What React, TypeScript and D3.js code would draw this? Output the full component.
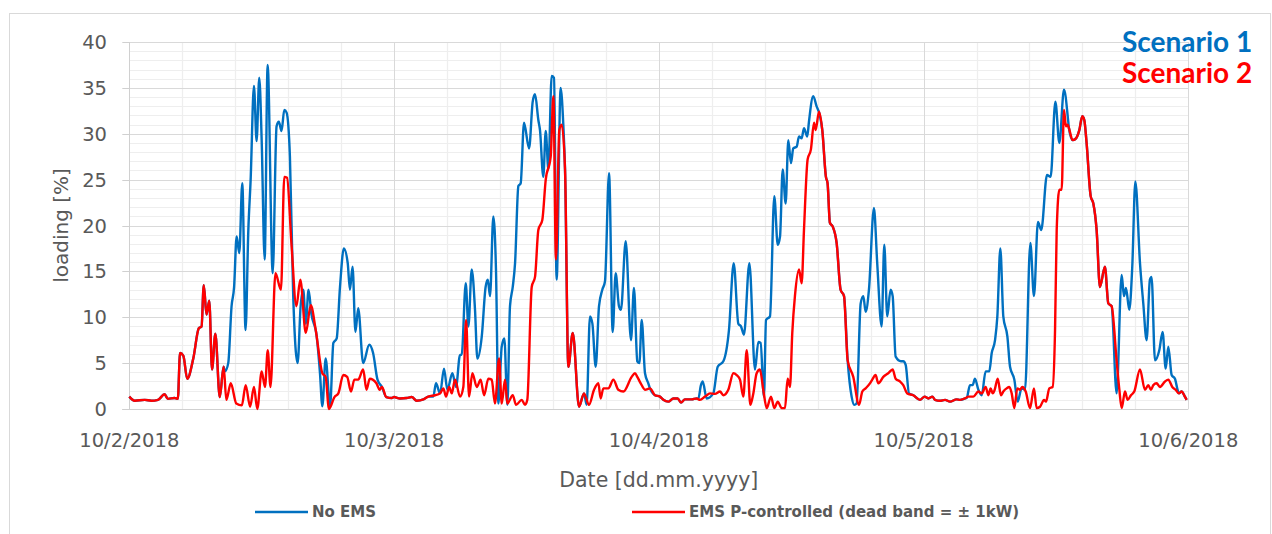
import * as d3 from "d3";
import { useEffect, useRef } from "react";

// [hours since 10/2/2018 00:00, loading %]
type Pt = [number, number];

const startDate = new Date(2018, 9, 2);
const dayTicks = ["10/2/2018", "10/3/2018", "10/4/2018", "10/5/2018", "10/6/2018"];
const yTicks = [0, 5, 10, 15, 20, 25, 30, 35, 40];

// EMS P-controlled (red), day by day
const redDay1: Pt[] = [
  [0, 1.35], [0.5, 0.9], [1.4, 1.0], [2.0, 0.9], [2.6, 1.0], [3.2, 1.6], [3.5, 1.1], [4.1, 1.2], [4.4, 1.1],
  [4.6, 6.1], [4.9, 5.8], [5.25, 3.3], [5.8, 5.5], [6.3, 8.8], [6.55, 9.0], [6.75, 13.5], [7.0, 10.3],
  [7.25, 11.8], [7.5, 4.3], [7.8, 8.2], [8.2, 1.3], [8.55, 4.6], [8.8, 1.0], [9.2, 2.8], [9.7, 0.6],
  [10.2, 0.4], [10.55, 2.6], [10.95, 0.25], [11.3, 2.4], [11.6, 0], [12.0, 4.1], [12.3, 2.4], [12.55, 6.4],
  [12.8, 2.4], [13.25, 14.8], [13.75, 13.0], [14.05, 25.3], [14.3, 25.2], [14.7, 18], [15.15, 11.2],
  [15.5, 14.1], [16.0, 8.3], [16.45, 11.3], [16.9, 8.6], [17.5, 3.9], [17.8, 3.5], [18.1, 0], [18.6, 1.3],
  [18.95, 1.7], [19.4, 3.7], [19.75, 3.5], [20.1, 1.9], [20.4, 3.2], [20.75, 3.2], [21.2, 4.3], [21.5, 2.1],
  [21.8, 3.3], [22.4, 2.8], [22.7, 2.1], [22.9, 2.4], [23.3, 1.3], [23.8, 1.2],
];
const redDay2: Pt[] = [
  [24.0, 1.3], [24.54, 1.15], [25.15, 1.2], [25.6, 1.3], [26.05, 0.9], [26.66, 1.05], [27.1, 1.35],
  [27.72, 1.5], [28.17, 1.7], [28.47, 2.25], [28.71, 1.35], [29.0, 2.4], [29.23, 1.7], [29.53, 3.2],
  [29.98, 1.35], [30.28, 2.4], [30.53, 9.7], [30.8, 1.35], [31.1, 3.9], [31.5, 2.4], [31.85, 3.2],
  [32.16, 1.5], [32.55, 3.3], [32.85, 3.2], [33.15, 0.6], [33.52, 5.5], [33.76, 0.6], [34.06, 3.2],
  [34.27, 0.6], [34.76, 1.5], [35.06, 0.45], [35.57, 1.0], [35.87, 0.45], [36.08, 1.0], [36.48, 13.3],
  [36.78, 14.4], [37.08, 19.5], [37.44, 20.6], [37.75, 25.0], [38.2, 27.5], [38.44, 34.1], [38.68, 16.3],
  [38.98, 30.4], [39.2, 31.0], [39.5, 26.1], [39.8, 4.6], [40.2, 8.3], [40.77, 0.25], [41.22, 1.7],
  [41.67, 0.45], [42.13, 2.1], [42.52, 2.8], [42.73, 1.15], [42.97, 2.25], [43.43, 2.25], [43.88, 3.2],
  [44.33, 2.1], [44.79, 1.9], [45.54, 3.5], [45.84, 3.9], [46.05, 3.5], [46.36, 2.8], [46.75, 2.1],
  [47.2, 2.25], [47.65, 1.5],
];
const redDay3: Pt[] = [
  [48.1, 1.35], [48.41, 1.0], [48.86, 0.8], [49.32, 1.15], [49.71, 1.15], [50.01, 0.7], [50.37, 1.05],
  [50.98, 1.05], [51.43, 1.15], [51.73, 1.0], [52.19, 1.35], [52.64, 1.7], [53.09, 1.65], [53.55, 1.9],
  [53.85, 1.5], [54.3, 2.1], [54.76, 3.9], [55.06, 3.7], [55.36, 3.2], [55.66, 1.35], [55.97, 6.4],
  [56.3, 0.45], [56.57, 1.7], [56.87, 3.9], [57.17, 4.3], [57.47, 2.1], [57.78, 0.1], [58.17, 1.35],
  [58.47, 0.1], [58.78, 0.8], [59.14, 0.1], [59.44, 0.1], [59.68, 3.3], [59.89, 2.4], [60.1, 8.3],
  [60.34, 12.3], [60.71, 15.2], [60.95, 13.7], [61.16, 19.5], [61.49, 27.2], [61.79, 28.3], [62.07, 31.2],
  [62.22, 30.4], [62.52, 32.4], [62.82, 30.4], [63.15, 25.3], [63.3, 24.6], [63.51, 20.3], [63.76, 19.9],
  [64.12, 18.1], [64.48, 13.0], [64.79, 12.3], [65.12, 5.3], [65.63, 3.5], [66.15, 0.45], [66.45, 1.9],
  [66.75, 2.25], [67.14, 2.8], [67.35, 3.2], [67.65, 3.7], [67.9, 2.8], [68.35, 3.5], [68.8, 3.9],
  [69.2, 4.3], [69.47, 3.3], [69.86, 3.0], [70.16, 2.6], [70.52, 1.7], [71.07, 1.5], [71.67, 1.0],
];
const redDay4: Pt[] = [
  [72.1, 1.35], [72.44, 1.15], [72.8, 1.35], [73.04, 1.0], [73.49, 0.9], [73.95, 1.0], [74.4, 0.8],
  [75.0, 1.05], [75.31, 1.0], [75.76, 1.15], [76.06, 1.35], [76.51, 1.35], [76.97, 1.9], [77.27, 1.7],
  [77.63, 2.4], [77.87, 1.5], [78.08, 2.25], [78.27, 1.7], [78.45, 2.1], [78.72, 3.3], [79.02, 1.5],
  [79.23, 1.9], [79.53, 2.25], [79.78, 2.4], [79.99, 1.7], [80.23, 0.1], [80.5, 2.25], [80.74, 2.1],
  [80.95, 2.4], [81.26, 1.9], [81.65, 0.1], [82.01, 2.25], [82.25, 0.1], [82.56, 0.25], [82.92, 1.0],
  [83.1, 0.8], [83.4, 2.25], [83.7, 2.4], [83.92, 8.6], [84.07, 19.5], [84.31, 23.9], [84.52, 23.9],
  [84.73, 32.6], [84.91, 30.8], [85.06, 31.0], [85.18, 30.6], [85.52, 29.3], [85.82, 29.5], [86.12, 30.4],
  [86.39, 31.9], [86.57, 31.5], [86.78, 29.0], [87.15, 23.2], [87.39, 22.4], [87.69, 19.5], [87.99, 13.3],
  [88.44, 15.5], [88.75, 11.5], [89.05, 11.2], [89.5, 5.3], [89.75, 2.1], [89.96, 0.1], [90.26, 1.9],
  [90.5, 1.0], [90.8, 1.5], [91.1, 1.9], [91.62, 4.3], [92.07, 2.1], [92.37, 2.6], [92.61, 2.1],
  [92.83, 2.6], [93.13, 2.8], [93.43, 2.4], [93.89, 3.0], [94.19, 3.2], [94.55, 2.4], [94.85, 2.1],
  [95.15, 1.7], [95.39, 1.9], [95.69, 1.35], [95.85, 1.0],
];

// No EMS (blue): only the stretches where it leaves the red line
const blueDay1: Pt[] = [
  [8.67, 4.1], [8.97, 5.0], [9.27, 11.2], [9.5, 13.3], [9.73, 18.8], [9.97, 17.0], [10.24, 24.6],
  [10.54, 8.6], [10.79, 19.5], [11.0, 25.0], [11.3, 35.2], [11.54, 29.2], [11.78, 36.1], [12.0, 29.3],
  [12.27, 16.3], [12.54, 37.5], [13.0, 14.8], [13.35, 30.8], [13.56, 31.3], [13.8, 30.3], [14.05, 32.6],
  [14.26, 32.3], [14.56, 27.5], [14.86, 12.3], [15.26, 5.0], [15.53, 11.2], [15.77, 13.0], [16.0, 9.3],
  [16.25, 13.0], [16.5, 10.4], [16.98, 8.0], [17.28, 4.0], [17.5, 0.3], [17.8, 5.5], [18.2, 0.3],
  [18.5, 7.2], [18.8, 7.7], [19.1, 13.3], [19.45, 17.5], [19.8, 15.9], [20.0, 13.0], [20.24, 15.5],
  [20.5, 8.4], [20.75, 11.0], [21.2, 5.0], [21.75, 7.0], [22.1, 6.1], [22.5, 3.2], [22.9, 2.4],
];
const blueDay2a: Pt[] = [
  [27.56, 1.35], [27.8, 2.8], [28.17, 1.7], [28.53, 4.4], [28.83, 2.1], [29.29, 3.9], [29.62, 2.4],
  [29.98, 5.9], [30.13, 5.9], [30.5, 13.7], [30.74, 9.0], [31.04, 15.2], [31.34, 10.8], [31.55, 5.5],
  [31.95, 7.9], [32.3, 13.3], [32.5, 14.1], [32.7, 12.3], [33.0, 21.0], [33.24, 15.2], [33.46, 0.6],
  [33.76, 6.8], [34.0, 7.7], [34.27, 0.45], [34.51, 11.2], [34.76, 13.3], [34.97, 15.9], [35.27, 24.3],
  [35.48, 24.6], [35.78, 31.2], [36.24, 28.4], [36.57, 33.5], [36.78, 34.3], [37.08, 31.5], [37.23, 30.4],
  [37.53, 25.3], [37.75, 30.3], [37.99, 26.1], [38.29, 36.3], [38.5, 36.1], [38.74, 14.1], [39.1, 35.0],
  [39.35, 30.8], [39.5, 26.1],
];
const blueDay2b: Pt[] = [
  [41.46, 0.45], [41.76, 10.1], [41.98, 9.3], [42.28, 4.6], [42.58, 11.2], [42.88, 13.0], [43.12, 13.9],
  [43.49, 25.7], [43.82, 8.4], [44.09, 14.8], [44.39, 11.2], [44.57, 10.8], [45.0, 18.3], [45.48, 7.5],
  [45.75, 13.2], [46.05, 5.2], [46.24, 5.0], [46.45, 9.7], [46.75, 3.9], [47.05, 2.8], [47.2, 2.25],
];
const blueDay3a: Pt[] = [
  [51.58, 1.1], [51.82, 2.6], [51.98, 3.0], [52.34, 1.15], [52.94, 1.7], [53.34, 4.6], [53.85, 5.2],
  [54.36, 8.6], [54.79, 15.9], [55.21, 9.3], [55.45, 9.0], [55.72, 8.1], [56.21, 15.9], [56.72, 4.3],
  [57.02, 7.3], [57.23, 7.2], [57.53, 1.35], [57.72, 9.7], [58.08, 10.1], [58.47, 23.2], [58.78, 17.9],
  [58.99, 18.8], [59.23, 26.1], [59.5, 22.4], [59.74, 29.3], [59.98, 26.8], [60.19, 28.4], [60.5, 28.6],
  [60.71, 29.7], [60.95, 29.5], [61.16, 30.6], [61.46, 29.7], [61.61, 31.3], [62.0, 34.1], [62.3, 33.0],
  [62.6, 32.0],
];
const blueDay3b: Pt[] = [
  [65.48, 1.35], [65.72, 0.45], [65.93, 0.6], [66.3, 11.5], [66.54, 12.3], [66.75, 10.6], [67.05, 13.0],
  [67.5, 21.9], [67.8, 15.9], [68.2, 9.0], [68.44, 17.9], [68.71, 10.1], [69.01, 13.0], [69.2, 12.3],
  [69.47, 5.7], [69.95, 5.2], [70.16, 5.2], [70.38, 4.8], [70.68, 1.7],
];
const blueDay4a: Pt[] = [
  [75.91, 1.2], [76.21, 2.6], [76.45, 2.6], [76.66, 3.3], [76.97, 2.1], [77.27, 1.5], [77.63, 4.1],
  [77.96, 4.1], [78.18, 6.1], [78.48, 7.5], [78.69, 10.1], [78.96, 17.5], [79.23, 10.1], [79.6, 7.9],
  [79.84, 4.6], [80.23, 3.2], [80.53, 0.8], [80.89, 2.25], [81.2, 2.1], [81.68, 18.1], [82.01, 12.3],
  [82.37, 20.4], [82.67, 19.5], [83.19, 25.5], [83.52, 25.3], [83.95, 33.5], [84.31, 29.0], [84.73, 34.8],
  [85.12, 31.3],
];
const blueDay4b: Pt[] = [
  [89.5, 1.7], [89.96, 14.6], [90.17, 12.3], [90.35, 13.2], [90.65, 10.8], [90.92, 15.5], [91.2, 24.8],
  [91.62, 15.9], [91.92, 11.5], [92.22, 7.5], [92.52, 14.1], [92.67, 14.4], [92.98, 5.3], [93.37, 6.4],
  [93.67, 8.4], [93.95, 4.4], [94.19, 6.8], [94.49, 3.7], [94.79, 3.3], [95.03, 2.1],
];

const redSeries: Pt[] = [...redDay1, ...redDay2, ...redDay3, ...redDay4];
const blueParts = [blueDay1, blueDay2a, blueDay2b, blueDay3a, blueDay3b, blueDay4a, blueDay4b];

// where the blue line isn't separately read it lies under the red one
const buildBlue = (): Pt[] => {
  const outside = redSeries.filter(([t]) => !blueParts.some(p => t >= p[0][0] && t <= p[p.length - 1][0]));
  return [...outside, ...blueParts.flat()].sort((a, b) => a[0] - b[0]);
};
const blueSeries = buildBlue();

const BLUE = "#0070C0";
const RED = "#FF0000";
const TEXT = "#595959";
const FONT = "'DejaVu Sans', sans-serif";

const App = () => {
  const chartRef = useRef(null);

  useEffect(() => {
    const width = 1272;
    const height = 534;
    const margin = { top: 42, bottom: 125, left: 129.3, right: 83.7 };

    const svg = d3.select(chartRef.current);
    svg.selectAll("*").remove();

    const toDate = (h: number) => new Date(startDate.getTime() + h * 3600 * 1000);

    const scaleX = d3.scaleTime()
      .domain([startDate, toDate(96)])
      .range([margin.left, width - margin.right]);
    const scaleY = d3.scaleLinear()
      .domain([0, 40])
      .range([height - margin.bottom, margin.top]);

    const x0 = margin.left, x1 = width - margin.right;
    const y0 = height - margin.bottom, y1 = margin.top;
    const crisp = (v: number) => Math.round(v) + 0.5;

    // outer chart frame
    svg.append("rect")
      .attr("x", 9.5).attr("y", 13.5)
      .attr("width", 1261).attr("height", 540)
      .attr("fill", "white").attr("stroke", "#d9d9d9");

    // minor grid
    const minorY = d3.range(1, 40).filter(v => v % 5 !== 0);
    svg.append("g").selectAll("line")
      .data(minorY).enter().append("line")
      .attr("x1", x0).attr("x2", x1)
      .attr("y1", d => crisp(scaleY(d))).attr("y2", d => crisp(scaleY(d)))
      .attr("stroke", "#eeeeee").attr("stroke-width", 1);

    const minorX = d3.range(1, 20).filter(i => i % 5 !== 0).map(i => i * 4.8);
    svg.append("g").selectAll("line")
      .data(minorX).enter().append("line")
      .attr("x1", d => crisp(scaleX(toDate(d)))).attr("x2", d => crisp(scaleX(toDate(d))))
      .attr("y1", y1).attr("y2", y0)
      .attr("stroke", "#eeeeee").attr("stroke-width", 1.3);

    // major grid
    svg.append("g").selectAll("line")
      .data(yTicks.slice(1)).enter().append("line")
      .attr("x1", x0).attr("x2", x1)
      .attr("y1", d => crisp(scaleY(d))).attr("y2", d => crisp(scaleY(d)))
      .attr("stroke", "#d9d9d9");

    svg.append("g").selectAll("line")
      .data(dayTicks.slice(1)).enter().append("line")
      .attr("x1", (d, i) => crisp(scaleX(toDate((i + 1) * 24))))
      .attr("x2", (d, i) => crisp(scaleX(toDate((i + 1) * 24))))
      .attr("y1", y1).attr("y2", y0)
      .attr("stroke", "#d9d9d9");

    // axes
    svg.append("line")
      .attr("x1", crisp(x0)).attr("x2", crisp(x0)).attr("y1", y1).attr("y2", y0)
      .attr("stroke", "#d0d0d0");
    svg.append("line")
      .attr("x1", x0 - 7).attr("x2", x1).attr("y1", crisp(y0)).attr("y2", crisp(y0))
      .attr("stroke", "#d0d0d0");
    svg.append("g").selectAll("line")
      .data(yTicks).enter().append("line")
      .attr("x1", x0 - 7).attr("x2", x0)
      .attr("y1", d => crisp(scaleY(d))).attr("y2", d => crisp(scaleY(d)))
      .attr("stroke", "#d0d0d0");

    svg.append("g").selectAll("text")
      .data(yTicks).enter().append("text")
      .attr("x", 107).attr("y", d => scaleY(d))
      .attr("dy", "0.36em")
      .attr("text-anchor", "end")
      .attr("font-family", FONT).attr("font-size", 19.5)
      .attr("fill", TEXT)
      .text(d => d);

    svg.append("g").selectAll("text")
      .data(dayTicks).enter().append("text")
      .attr("x", (d, i) => scaleX(toDate(i * 24)))
      .attr("y", 447)
      .attr("text-anchor", "middle")
      .attr("font-family", FONT).attr("font-size", 19.5)
      .attr("fill", TEXT)
      .text(d => d);

    // axis titles
    svg.append("text")
      .attr("transform", `translate(68, ${(y0 + y1) / 2}) rotate(-90)`)
      .attr("text-anchor", "middle")
      .attr("font-family", FONT).attr("font-size", 20)
      .attr("fill", TEXT)
      .text("loading [%]");

    svg.append("text")
      .attr("x", (x0 + x1) / 2).attr("y", 487)
      .attr("text-anchor", "middle")
      .attr("font-family", FONT).attr("font-size", 20.5)
      .attr("fill", TEXT)
      .text("Date [dd.mm.yyyy]");

    // series
    const line = d3.line<Pt>()
      .x(d => scaleX(toDate(d[0])))
      .y(d => scaleY(d[1]))
      .curve(d3.curveMonotoneX);

    svg.append("path")
      .datum(blueSeries)
      .attr("d", line)
      .attr("fill", "none")
      .attr("stroke", BLUE)
      .attr("stroke-width", 2.4)
      .attr("stroke-linejoin", "round");

    svg.append("path")
      .datum(redSeries)
      .attr("d", line)
      .attr("fill", "none")
      .attr("stroke", RED)
      .attr("stroke-width", 2.4)
      .attr("stroke-linejoin", "round");

    // legend
    const legend = [
      { label: "No EMS", color: BLUE, x: 255 },
      { label: "EMS P-controlled (dead band = ± 1kW)", color: RED, x: 632 },
    ];
    const lg = svg.append("g").selectAll("g")
      .data(legend).enter().append("g")
      .attr("transform", d => `translate(${d.x}, 512)`);
    lg.append("line")
      .attr("x1", 0).attr("x2", 53).attr("y1", 0).attr("y2", 0)
      .attr("stroke", d => d.color).attr("stroke-width", 2.4);
    lg.append("text")
      .attr("x", 57).attr("y", 0).attr("dy", "0.36em")
      .attr("font-family", FONT).attr("font-size", 15).attr("font-weight", "bold")
      .attr("fill", TEXT)
      .text(d => d.label);

    // scenario labels
    svg.append("text")
      .attr("x", 1122).attr("y", 51.5)
      .attr("font-family", "Lato, sans-serif").attr("font-size", 28).attr("font-weight", "bold")
      .attr("fill", BLUE)
      .text("Scenario 1");
    svg.append("text")
      .attr("x", 1122).attr("y", 83)
      .attr("font-family", "Lato, sans-serif").attr("font-size", 28).attr("font-weight", "bold")
      .attr("fill", RED)
      .text("Scenario 2");
  }, []);

  return (
    <svg ref={chartRef} width={1272} height={534}
      style={{ position: "absolute", left: 0, top: 0, display: "block" }} />
  );
};

export default App;
